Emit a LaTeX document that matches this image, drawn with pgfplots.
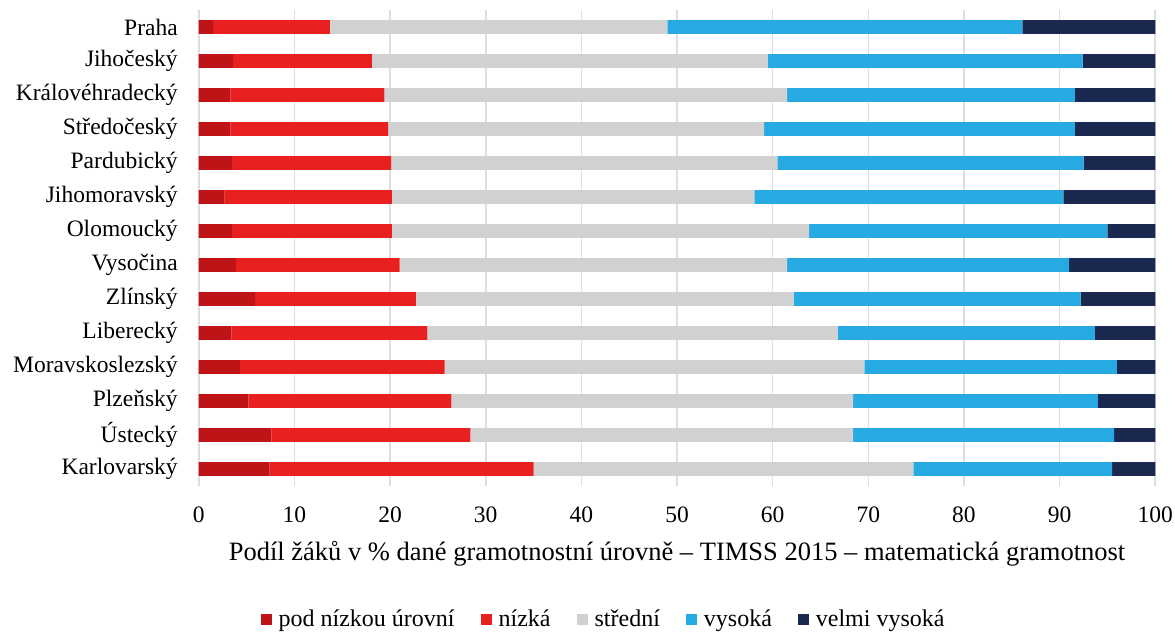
\documentclass[border=0pt]{standalone}
\usepackage{pgfplots}
\pgfplotsset{compat=1.18}
\usepackage{pgfplotstable}
\usepackage{fontspec}
\setmainfont{Liberation Serif}
\definecolor{cDarkRed}{RGB}{190,20,24}
\definecolor{cRed}{RGB}{232,32,31}
\definecolor{cGray}{RGB}{208,209,208}
\definecolor{cBlue}{RGB}{39,169,225}
\definecolor{cNavy}{RGB}{27,41,81}
\definecolor{cGrid}{RGB}{222,222,222}
\pgfplotstableread{
y a b c d e
14 1.5 12.2 35.3 37.1 13.9
13 3.6 14.5 41.4 32.9 7.6
12 3.3 16.1 42.1 30.1 8.4
11 3.3 16.5 39.3 32.5 8.4
10 3.5 16.6 40.4 32.0 7.5
9 2.7 17.5 37.9 32.3 9.6
8 3.5 16.7 43.6 31.2 5.0
7 3.9 17.1 40.5 29.5 9.0
6 5.9 16.8 39.5 30.0 7.8
5 3.4 20.5 42.9 26.9 6.3
4 4.3 21.4 43.9 26.4 4.0
3 5.2 21.2 42.0 25.6 6.0
2 7.6 20.8 40.0 27.3 4.3
1 7.4 27.6 39.7 20.8 4.5
}\datatable
\begin{document}
\fontsize{23.5}{28}\selectfont
\begin{tikzpicture}
\path[use as bounding box] (-198.75pt,-146pt) rectangle (976.25pt,486pt);
\begin{axis}[
  at={(0pt,0pt)}, anchor=south west,
  scale only axis,
  width=956.5pt, height=476pt,
  xmin=0, xmax=100, ymin=0.5, ymax=14.5,
  xbar stacked, bar width=13.7pt,
  axis line style={draw=none},
  major tick length=0pt,
  xtick={0,10,...,100},
  ytick={1,...,14},
  yticklabels={Karlovarský,Ústecký,Plzeňský,Moravskoslezský,Liberecký,Zlínský,Vysočina,Olomoucký,Jihomoravský,Pardubický,Středočeský,Královéhradecký,Jihočeský,Praha},
  xmajorgrids,
  grid style={draw=cGrid, line width=1.6pt},
  /pgf/number format/assume math mode=true,
  tick label style={font=\fontsize{23.5}{28}\selectfont},
  xticklabel style={yshift=-13pt},
  yticklabel style={xshift=-13pt},
  xlabel={Podíl žáků v \% dané gramotnostní úrovně – TIMSS 2015 – matematická gramotnost},
  xlabel style={at={(rel axis cs:0.5,0)}, anchor=base, yshift=-74pt, font=\fontsize{26.5}{31}\selectfont},
  legend columns=5,
  legend style={at={(rel axis cs:0.0645,-0.2815)}, anchor=west, draw=none, fill=none,
    inner sep=0pt, font=\fontsize{24}{29}\selectfont,
    nodes={inner xsep=3pt, inner ysep=0pt},
    /tikz/every even column/.append style={column sep=23pt}},
  legend image code/.code={\fill[#1] (0pt,-5.5pt) rectangle (11pt,5.5pt); \path (15pt,0pt);},
]
\addplot[fill=cDarkRed, draw=none] table[x=a, y=y] {\datatable};
\addplot[fill=cRed, draw=none] table[x=b, y=y] {\datatable};
\addplot[fill=cGray, draw=none] table[x=c, y=y] {\datatable};
\addplot[fill=cBlue, draw=none] table[x=d, y=y] {\datatable};
\addplot[fill=cNavy, draw=none] table[x=e, y=y] {\datatable};
\legend{pod nízkou úrovní, nízká, střední, vysoká, velmi vysoká}
\end{axis}
\end{tikzpicture}
\end{document}
